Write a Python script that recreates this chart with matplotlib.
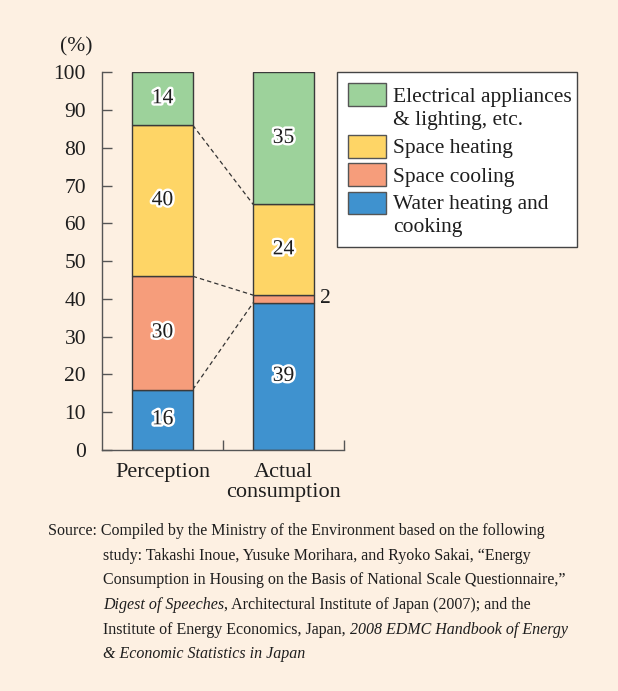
import matplotlib
matplotlib.use("Agg")
import matplotlib.pyplot as plt
import matplotlib.patheffects as pe
from matplotlib.patches import Rectangle
import numpy as np

# ---- data -------------------------------------------------------------
categories = ["Perception", "Actual\nconsumption"]
series_names = ["Water heating and\ncooking", "Space cooling", "Space heating",
                "Electrical appliances\n& lighting, etc."]
water_cooking = [16, 39]
space_cooling = [30, 2]
space_heating = [40, 24]
electrical = [14, 35]
y_ticks = [0, 10, 20, 30, 40, 50, 60, 70, 80, 90, 100]

colors = {
    "water": "#3F92CF",
    "cooling": "#F69D7B",
    "heating": "#FED566",
    "elec": "#9DD29B",
}

W, H = 618, 691
BG = "#FDF0E2"
EDGE = "#3a3a3a"
plt.rcParams["font.family"] = ["Liberation Serif", "DejaVu Serif"]

fig = plt.figure(figsize=(W / 100, H / 100), dpi=100, facecolor=BG)


def fx(px):
    return px / W


def fy(py):
    return 1 - py / H


ax = fig.add_axes([fx(102), fy(450), fx(344) - fx(102), fy(72.3) - fy(450)])
ax.set_facecolor("none")
ax.set_xlim(0, 2)
ax.set_ylim(0, 100)

xpos = np.array([0.5, 1.5])
bw = 0.5
stack = [("water", water_cooking), ("cooling", space_cooling),
         ("heating", space_heating), ("elec", electrical)]
bottom = np.zeros(2)
tops = []
halo = [pe.withStroke(linewidth=3.5, foreground="white")]
for key, vals in stack:
    vals = np.array(vals, dtype=float)
    ax.bar(xpos, vals, bw, bottom=bottom, color=colors[key],
           edgecolor=EDGE, linewidth=1.0, zorder=2)
    for i, v in enumerate(vals):
        if v >= 5:
            ax.text(xpos[i], bottom[i] + v / 2, f"{int(v)}", ha="center",
                    va="center", fontsize=15.5, color="#1e1e1e",
                    path_effects=halo, zorder=4)
    bottom = bottom + vals
    tops.append(bottom.copy())

# small segment labelled beside the bar
cool_base = water_cooking[1]
ax.text(xpos[1] + bw / 2 + 0.055, cool_base + space_cooling[1] / 2,
        f"{space_cooling[1]}", ha="left", va="center", fontsize=15.5,
        color="#1e1e1e")

# dashed connectors between the stacks
for t in tops[:3]:
    ax.plot([xpos[0] + bw / 2, xpos[1] - bw / 2], [t[0], t[1]],
            ls=(0, (3.5, 2.5)), color="#333333", lw=0.9, zorder=1)

for s in ["top", "right"]:
    ax.spines[s].set_visible(False)
for s in ["left", "bottom"]:
    ax.spines[s].set_color("#555555")
    ax.spines[s].set_linewidth(1.0)

ax.set_yticks(y_ticks)
ax.set_yticklabels([str(t) for t in y_ticks], fontsize=15.5, color="#1e1e1e")
ax.tick_params(axis="y", direction="in", length=7.5, width=1.0,
               color="#555555", pad=11.5)
ax.set_xticks([1, 2])
ax.set_xticklabels([])
ax.tick_params(axis="x", which="major", direction="in", length=7.5,
               width=1.0, color="#555555")
ax.set_xticks(xpos, minor=True)
ax.set_xticklabels(categories, minor=True, fontsize=16, color="#1e1e1e",
                   linespacing=1.05)
ax.tick_params(axis="x", which="minor", length=0, pad=9.5)

fig.text(fx(76), fy(47), "(%)", ha="center", va="center", fontsize=15.5,
         color="#1e1e1e")

# legend box
fig.add_artist(Rectangle((fx(336.7), fy(246.7)), fx(577) - fx(336.7),
                         fy(72.3) - fy(246.7), transform=fig.transFigure,
                         facecolor="white", edgecolor="#444444", lw=1.0))
legend_rows = [
    ("elec", 83, ["Electrical appliances", "& lighting, etc."], [101.7, 125]),
    ("heating", 135, ["Space heating"], [152.7]),
    ("cooling", 163, ["Space cooling"], [181.7]),
    ("water", 191.7, ["Water heating and", "cooking"], [209.3, 231.7]),
]
for key, ptop, lines, bases in legend_rows:
    fig.add_artist(Rectangle((fx(348), fy(ptop + 22.5)), fx(386) - fx(348),
                             fy(ptop) - fy(ptop + 22.5),
                             transform=fig.transFigure,
                             facecolor=colors[key], edgecolor="#555555",
                             lw=1.0))
    for ln, b in zip(lines, bases):
        fig.text(fx(393), fy(b), ln, ha="left", va="baseline",
                 fontsize=15.5, color="#1e1e1e")

# source note, with italic titles set inline
src_size = 11.5
src_lines = [
    [("Source: Compiled by the Ministry of the Environment based on the following", "normal")],
    [("study: Takashi Inoue, Yusuke Morihara, and Ryoko Sakai, \u201cEnergy", "normal")],
    [("Consumption in Housing on the Basis of National Scale Questionnaire,\u201d", "normal")],
    [("Digest of Speeches", "italic"),
     (", Architectural Institute of Japan (2007); and the", "normal")],
    [("Institute of Energy Economics, Japan, ", "normal"),
     ("2008 EDMC Handbook of Energy", "italic")],
    [("& Economic Statistics in Japan", "italic")],
]
renderer = fig.canvas.get_renderer()
base0 = 535
step = 24.7
for i, segs in enumerate(src_lines):
    x = 48 if i == 0 else 103
    y = base0 + step * i
    for txt, style in segs:
        t = fig.text(fx(x), fy(y), txt, ha="left", va="baseline",
                     fontsize=src_size, style=style, color="#1e1e1e")
        bb = t.get_window_extent(renderer=renderer)
        x += bb.width

fig.savefig("out.png", dpi=100, facecolor=BG)
